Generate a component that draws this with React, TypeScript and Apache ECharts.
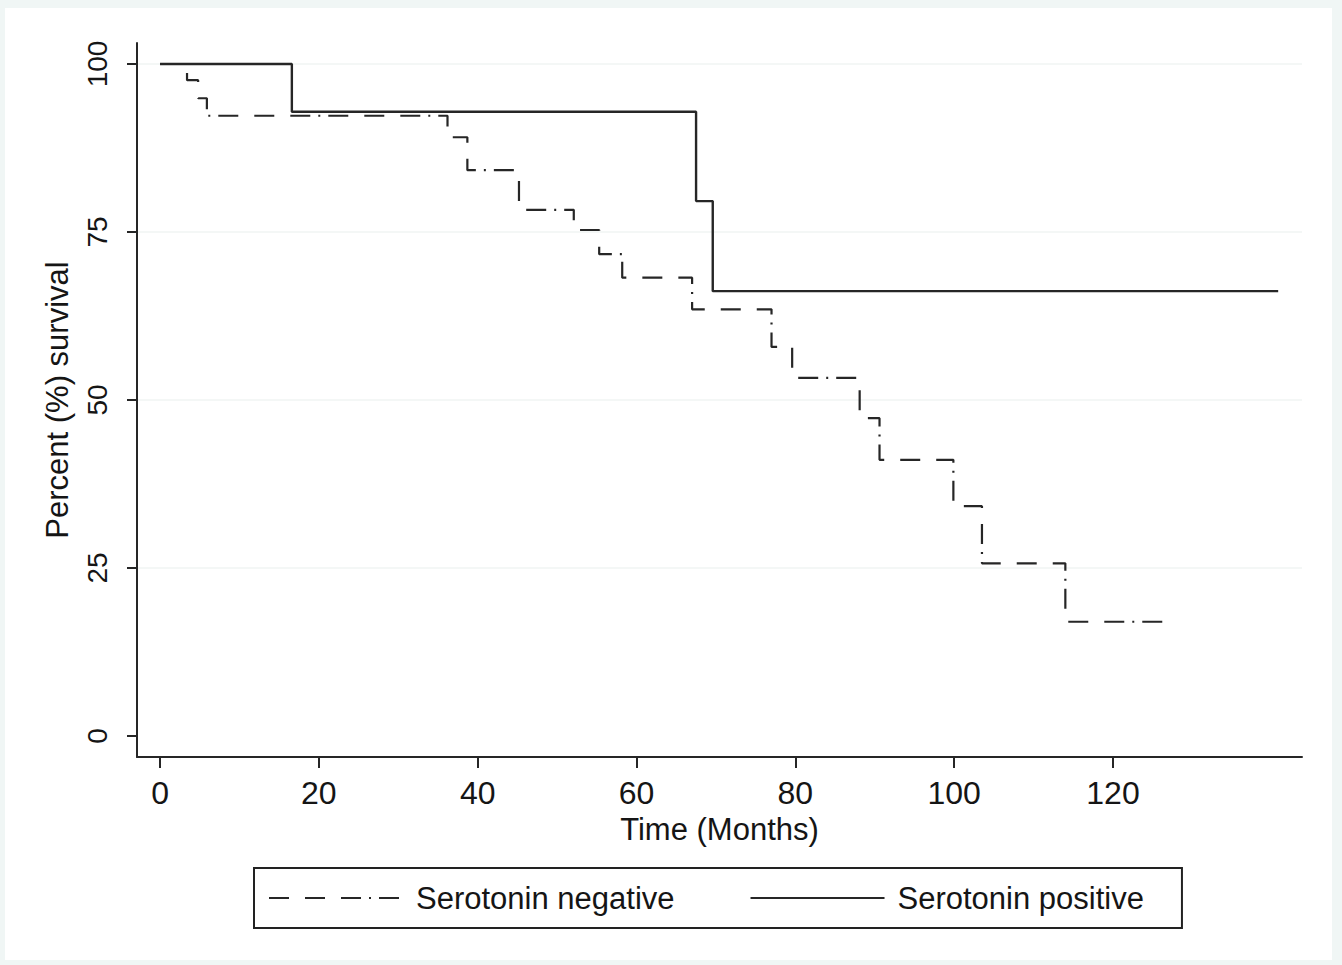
import React, { useEffect, useRef } from "react";
import * as echarts from "echarts";

// Kaplan-Meier step points: [time (months), survival %]
const negTimes = [0, 3.4, 4.8, 5.9, 36.2, 38.7, 45.2, 52.1, 55.3, 58.2, 67.0, 77.0, 79.6, 88.1, 90.6, 99.9, 103.5, 114.0, 126.5];
const negValues = [100, 97.6, 94.9, 92.3, 89.1, 84.2, 78.3, 75.3, 71.7, 68.2, 63.5, 57.9, 53.3, 47.3, 41.1, 34.2, 25.7, 17.0, 17.0];
const posTimes = [0, 16.6, 67.5, 69.6, 140.8];
const posValues = [100, 92.9, 79.6, 66.2, 66.2];

const xTicks = [0, 20, 40, 60, 80, 100, 120];
const yTicks = [0, 25, 50, 75, 100];
const gridValues = [25, 50, 75, 100];

const seriesNames = ["Serotonin negative", "Serotonin positive"];
const xTitle = "Time (Months)";
const yTitle = "Percent (%) survival";

const FONT = "'Liberation Sans', Arial, Helvetica, sans-serif";
const INK = "#151515";
const LINE = "#262626";

export default function App() {
  const ref = useRef<HTMLDivElement>(null);

  useEffect(() => {
    if (!ref.current) return;
    const chart = echarts.init(ref.current, undefined, { renderer: "svg" });

    const negData = negTimes.map((t, i) => [t, negValues[i]]);
    const posData = posTimes.map((t, i) => [t, posValues[i]]);

    chart.setOption({
      animation: false,
      backgroundColor: "#f0f6f5",
      graphic: [
        {
          type: "rect",
          shape: { x: 5, y: 8, width: 1327, height: 952 },
          style: { fill: "#ffffff" },
          z: -10,
          silent: true,
        },
      ],
      grid: { left: 137, top: 43, right: 40, bottom: 208, containLabel: false },
      xAxis: {
        type: "value",
        min: -2.9,
        max: 143.8,
        name: xTitle,
        nameLocation: "middle",
        nameGap: 52,
        nameTextStyle: { fontSize: 31, fontFamily: FONT, color: INK },
        axisLine: { show: true, onZero: false, lineStyle: { color: LINE, width: 2 } },
        axisTick: { show: true, customValues: xTicks, length: 11, lineStyle: { color: LINE, width: 2 } },
        axisLabel: {
          customValues: xTicks,
          fontSize: 32,
          fontFamily: FONT,
          color: INK,
          margin: 20,
        },
        splitLine: { show: false },
      },
      yAxis: {
        type: "value",
        min: -3.125,
        max: 103.125,
        name: yTitle,
        nameLocation: "middle",
        nameGap: 64,
        nameRotate: 90,
        nameTextStyle: { fontSize: 31, fontFamily: FONT, color: INK },
        axisLine: { show: true, onZero: false, lineStyle: { color: LINE, width: 2 } },
        axisTick: { show: true, customValues: yTicks, length: 10, lineStyle: { color: LINE, width: 2 } },
        axisLabel: {
          customValues: yTicks,
          rotate: 90,
          fontSize: 28,
          fontFamily: FONT,
          color: INK,
          margin: 26,
        },
        splitLine: { show: false },
      },
      legend: {
        left: 254,
        top: 868,
        orient: "horizontal",
        itemWidth: 134,
        itemHeight: 14,
        itemGap: 75,
        padding: [12, 38, 12, 14],
        borderColor: "#222",
        borderWidth: 2,
        selectedMode: false,
        itemStyle: { color: "transparent", borderWidth: 0, opacity: 0 },
        textStyle: {
          fontSize: 31,
          fontFamily: FONT,
          color: INK,
          lineHeight: 36,
          padding: [0, 0, 0, 8],
        },
        data: seriesNames,
      },
      series: [
        {
          name: seriesNames[0],
          type: "line",
          step: "end",
          symbol: "none",
          data: negData,
          lineStyle: { color: LINE, width: 2.2, type: [20, 16, 20, 16, 20, 8, 2, 8], cap: "butt" },
          itemStyle: { color: LINE },
          markLine: {
            silent: true,
            symbol: "none",
            label: { show: false },
            lineStyle: { color: "#f0f4f3", type: "solid", width: 1.5 },
            data: gridValues.map((v) => ({ yAxis: v })),
            z: 0,
          },
          z: 3,
        },
        {
          name: seriesNames[1],
          type: "line",
          step: "end",
          symbol: "none",
          data: posData,
          lineStyle: { color: LINE, width: 2.4, type: "solid" },
          itemStyle: { color: LINE },
          z: 4,
        },
      ],
    });

    return () => chart.dispose();
  }, []);

  return (
    <div
      ref={ref}
      style={{ position: "fixed", left: 0, top: 0, width: 1342, height: 965 }}
    />
  );
}
